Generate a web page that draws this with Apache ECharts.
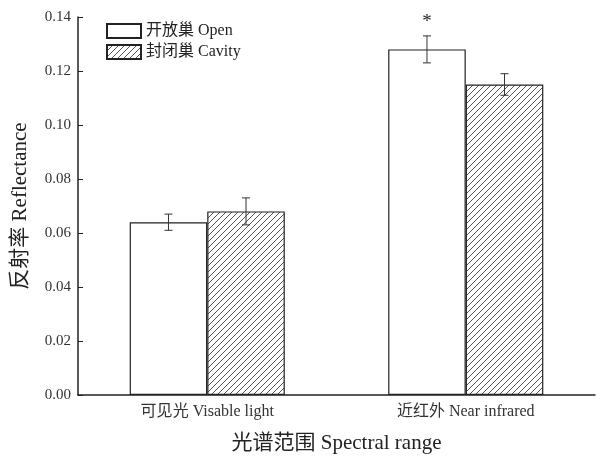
<!DOCTYPE html>
<html>
<head>
<meta charset="utf-8">
<script src="https://cdn.jsdelivr.net/npm/echarts@6/dist/echarts.min.js"></script>
<style>
  html, body { margin: 0; padding: 0; background: #fff; }
  #chart { width: 597px; height: 459px; }
</style>
</head>
<body>
<div id="chart"></div>
<script>
// Spectral reflectance of open vs. cavity nests
const categories = ['可见光 Visable light', '近红外 Near infrared'];
const openMean = [0.064, 0.128];
const openErr = [0.003, 0.005];
const cavityMean = [0.068, 0.115];
const cavityErr = [0.005, 0.004];
// significance marks per category, placed over the open-nest bar
const significance = ['', '*'];
const yTicks = [0, 0.02, 0.04, 0.06, 0.08, 0.10, 0.12, 0.14];

const serif = '"Liberation Serif", "Times New Roman", "Noto Sans CJK SC", serif';
const ink = '#222';

// diagonal hatch pattern for the cavity-nest bars
function makeHatch() {
  const c = document.createElement('canvas');
  const s = 6;
  c.width = s; c.height = s;
  const ctx = c.getContext('2d');
  ctx.fillStyle = '#fff';
  ctx.fillRect(0, 0, s, s);
  ctx.strokeStyle = '#444';
  ctx.lineWidth = 0.9;
  ctx.beginPath();
  ctx.moveTo(0, s); ctx.lineTo(s, 0);
  ctx.moveTo(-s / 2, s / 2); ctx.lineTo(s / 2, -s / 2);
  ctx.moveTo(s / 2, s * 1.5); ctx.lineTo(s * 1.5, s / 2);
  ctx.stroke();
  return c;
}
const hatch = { image: makeHatch(), repeat: 'repeat' };

const BAR_FRAC = 0.3; // each bar's share of the category band

// error-bar records: [category, mean, err, side(-1 open / +1 cavity), mark]
const errData = [];
categories.forEach((_, i) => {
  errData.push([i, openMean[i], openErr[i], -1, significance[i]]);
  errData.push([i, cavityMean[i], cavityErr[i], 1, '']);
});

function renderErr(params, api) {
  const cat = api.value(0), mean = api.value(1), err = api.value(2), side = api.value(3);
  const band = api.size([1, 0])[0];
  const cx = api.coord([cat, mean])[0] + side * band * BAR_FRAC / 2;
  const yHi = api.coord([cat, mean + err])[1];
  const yLo = api.coord([cat, mean - err])[1];
  const cap = 4;
  const style = { stroke: '#333', lineWidth: 1 };
  const children = [
    { type: 'line', shape: { x1: cx, y1: yHi, x2: cx, y2: yLo }, style },
    { type: 'line', shape: { x1: cx - cap, y1: yHi, x2: cx + cap, y2: yHi }, style },
    { type: 'line', shape: { x1: cx - cap, y1: yLo, x2: cx + cap, y2: yLo }, style }
  ];
  const mark = errData[params.dataIndex][4];
  if (mark) {
    children.push({
      type: 'text',
      style: { x: cx, y: yHi - 4, text: mark, fill: ink, font: '19px ' + serif,
               align: 'center', verticalAlign: 'bottom' }
    });
  }
  return { type: 'group', children };
}

const chart = echarts.init(document.getElementById('chart'));
chart.setOption({
  backgroundColor: '#fff',
  animation: false,
  grid: { left: 78, right: 2, top: 17, bottom: 57, containLabel: false },
  legend: {
    left: 101, top: 18, orient: 'vertical', itemGap: 5, icon: 'rect',
    itemWidth: 34, itemHeight: 14,
    textStyle: { fontFamily: serif, fontSize: 16, color: ink },
    data: ['开放巢 Open', '封闭巢 Cavity']
  },
  xAxis: {
    type: 'category',
    data: categories,
    name: '光谱范围 Spectral range',
    nameLocation: 'middle',
    nameGap: 38,
    nameTextStyle: { fontFamily: serif, fontSize: 21, color: ink },
    axisLine: { lineStyle: { color: ink, width: 1.5 } },
    axisTick: { show: false },
    axisLabel: { fontFamily: serif, fontSize: 16, color: '#333', margin: 9 }
  },
  yAxis: {
    type: 'value',
    min: yTicks[0], max: yTicks[yTicks.length - 1], interval: 0.02,
    name: '反射率 Reflectance',
    nameLocation: 'middle',
    nameGap: 47,
    nameTextStyle: { fontFamily: serif, fontSize: 21, color: ink },
    axisLine: { show: true, lineStyle: { color: ink, width: 1.5 } },
    axisTick: { show: true, inside: true, length: 5, lineStyle: { color: ink } },
    splitLine: { show: false },
    axisLabel: { fontFamily: serif, fontSize: 15, color: '#333', margin: 7,
                 formatter: v => v.toFixed(2) }
  },
  series: [
    {
      name: '开放巢 Open', type: 'bar', data: openMean,
      barWidth: (BAR_FRAC * 100) + '%', barGap: '0%',
      itemStyle: { color: '#fff', borderColor: ink, borderWidth: 1.2 }
    },
    {
      name: '封闭巢 Cavity', type: 'bar', data: cavityMean,
      barWidth: (BAR_FRAC * 100) + '%', barGap: '0%',
      itemStyle: { color: hatch, borderColor: ink, borderWidth: 1.2 }
    },
    {
      type: 'custom', renderItem: renderErr, data: errData, z: 10,
      encode: { x: 0, y: 1 }, silent: true
    }
  ]
});
</script>
</body>
</html>
